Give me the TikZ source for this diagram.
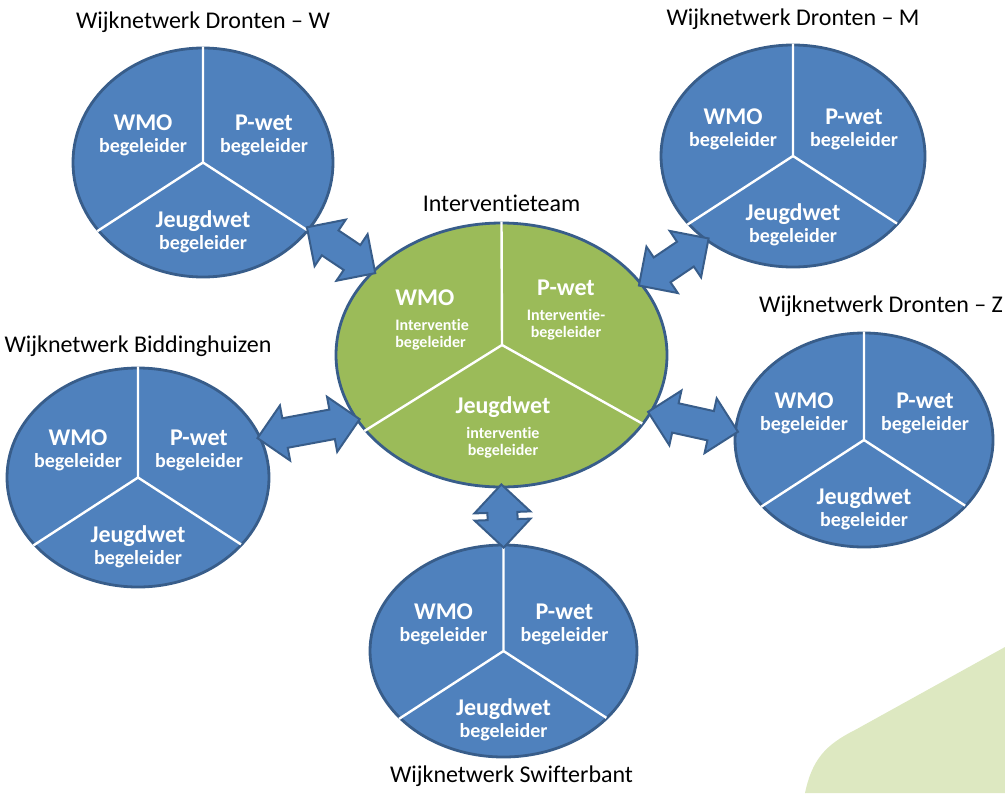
\documentclass[tikz,border=0pt]{standalone}
\usepackage{fontspec}
\setmainfont{Carlito}[Ligatures={TeX,NoCommon}]
\usetikzlibrary{positioning,calc,shapes.geometric,shapes.arrows}
\definecolor{wijkblauw}{HTML}{4F81BD}
\definecolor{randblauw}{HTML}{385D8A}
\definecolor{teamgroen}{HTML}{9BBB59}
\definecolor{hoekgroen}{HTML}{DDE8C1}
\tikzset{
  wijk/.style    = {ellipse, draw=randblauw, line width=1.4pt,
                    fill=wijkblauw, inner sep=0pt},
  team/.style    = {wijk, fill=teamgroen},
  deler/.style   = {draw=white, line width=1.2pt, shorten >=1pt},
  rol/.style     = {text=white, align=center, inner sep=0pt,
                    font=\bfseries\fontsize{10}{11}\selectfont},
  teamrol/.style = {rol, font=\bfseries\fontsize{8}{8.5}\selectfont},
  titel/.style   = {inner sep=0pt, font=\fontsize{12}{14}\selectfont},
  pijl/.style    = {double arrow, draw=randblauw, line width=1pt,
                    fill=wijkblauw, inner sep=7pt, minimum width=27pt,
                    double arrow head extend=6.5pt,
                    double arrow tip angle=90, sloped}
}
\newcommand{\functie}[3][0pt]{{\fontsize{12}{12}\selectfont #2}\\[#1]#3}

\begin{document}
\begin{tikzpicture}[x=0.5pt,y=0.5pt]
\useasboundingbox (0,0) rectangle (1005,-793);
% hoek rechtsonder
\fill[hoekgroen] (805,-793) .. controls (812,-760) and (825,-745) .. (855,-730)
  -- (1005,-647) -- (1005,-793) -- cycle;

% wijknetwerken
\foreach \k/\cx/\cy/\rw/\rh in {dw/203/-162.5/260/229, dm/793/-156/264/222,
    dz/864/-440/258/214, bh/138/-477.5/262/219, sb/503.5/-651/267/212}{
  \node[wijk, minimum width=\rw*0.5pt, minimum height=\rh*0.5pt] (\k) at (\cx,\cy) {};
  \draw[deler] (\k.center) -- (\k.90) (\k.center) -- (\k.213) (\k.center) -- (\k.327);
  \node[rol] (\k-wmo) at ([shift={(-60,27)}]\k.center) {\functie{WMO}{begeleider}};
  \node[rol] (\k-pwet) at ([shift={(61,27)}]\k.center) {\functie{P-wet}{begeleider}};
  \node[rol] (\k-jw) at ([shift={(0,-69)}]\k.center) {\functie{Jeugdwet}{begeleider}};
}
\node[titel, above=7pt of dw] (dw-titel) {Wijknetwerk Dronten – W};
\node[titel, above=7pt of dm] (dm-titel) {Wijknetwerk Dronten – M};
\node[titel, above=7.5pt of dz, xshift=8.5pt] (dz-titel) {Wijknetwerk Dronten – Z};
\node[titel, above=5pt of bh] (bh-titel) {Wijknetwerk Biddinghuizen};
\node[titel, below=3.5pt of sb, xshift=4pt] (sb-titel) {Wijknetwerk Swifterbant};

% interventieteam
\node[team, minimum width=165.5pt, minimum height=132pt] (it) at (501.5,-355) {};
\coordinate (it-mid) at (502,-345);
\draw[deler] (it-mid) -- (it.90) (it-mid) -- (it.209) (it-mid) -- (it.334);
\node[titel, above=4.8pt of it] (it-titel) {Interventieteam};
\node[teamrol, align=left, anchor=west] (it-wmo) at ([shift={(-106.5,35)}]it.center)
  {\functie[4pt]{WMO}{Interventie\\begeleider}};
\node[teamrol] (it-pwet) at ([shift={(64.5,45)}]it.center)
  {\functie[4pt]{P-wet}{Interventie-\\begeleider}};
\node[teamrol] (it-jw) at ([shift={(1.5,-72.5)}]it.center)
  {\functie[4pt]{Jeugdwet}{interventie\\begeleider}};

% pijlen
\foreach \k/\ka/\kb in {dw/-32/147, dm/224/27, dz/176/-21, bh/18/204, sb/90/270}{
  \path let \p1=(\k.\ka), \p2=(it.\kb), \n1={veclen(\x2-\x1,\y2-\y1)} in
    (\p1) -- (\p2) node[pijl, midway, minimum height=\n1+4pt] (pijl-\k) {};
}
\end{tikzpicture}
\end{document}
